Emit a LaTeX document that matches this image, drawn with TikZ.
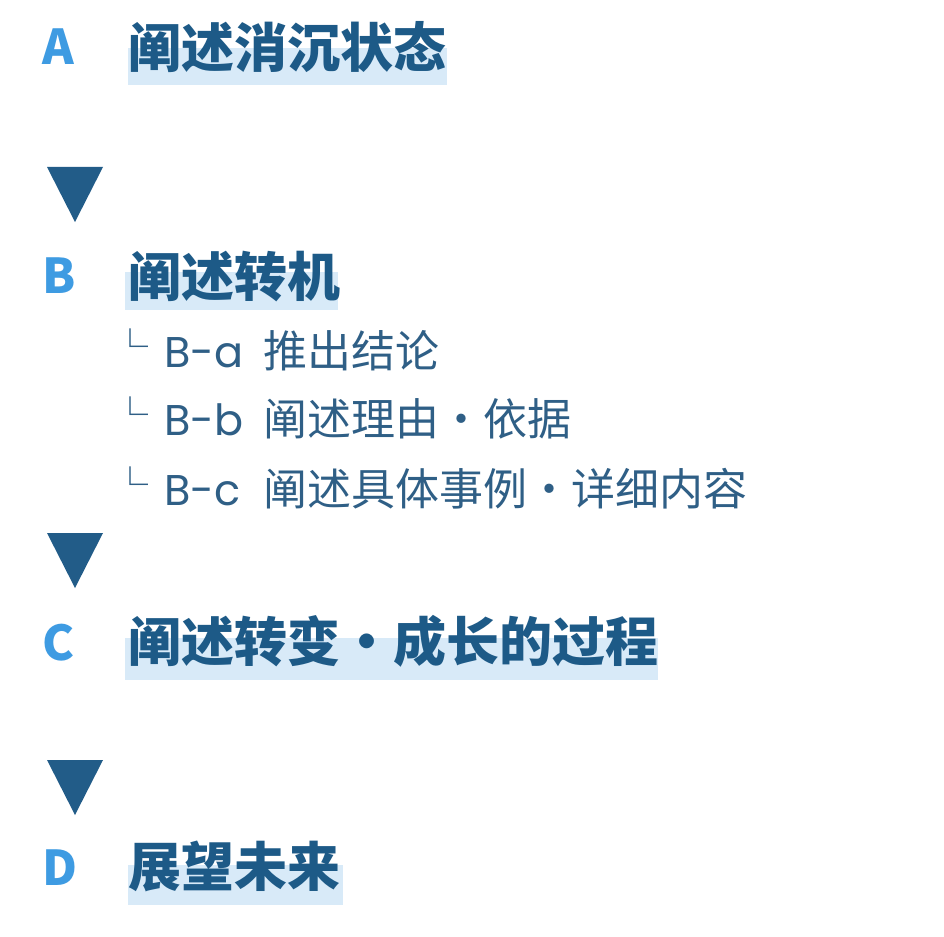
\documentclass[tikz,border=0pt]{standalone}
\usepackage{fontspec}
\setmainfont{Noto Sans CJK SC}
\newfontfamily\cjkfont{Noto Sans CJK SC}
\newfontfamily\latinfont{Poppins}
\definecolor{headblue}{HTML}{1D5A87}
\definecolor{letterblue}{HTML}{3E9BE2}
\definecolor{bandblue}{HTML}{D8EAF8}
\definecolor{triblue}{HTML}{225C88}
\definecolor{subblue}{HTML}{2F5F86}
\tikzset{
  letter/.style={anchor=base west, inner sep=0pt, text=letterblue, font=\cjkfont\bfseries\fontsize{48}{48}\selectfont},
  heading/.style={anchor=base west, inner sep=0pt, text=headblue, font=\cjkfont\bfseries\fontsize{53}{53}\selectfont},
  band/.style={fill=bandblue, draw=none},
  marker/.style={fill=triblue, draw=none},
  corner/.style={anchor=base west, inner sep=0pt, text=subblue, font=\cjkfont\fontsize{36}{36}\selectfont},
  sublabel/.style={anchor=base west, inner sep=0pt, text=subblue, font=\latinfont\fontsize{43}{43}\selectfont},
  subtext/.style={anchor=base west, inner sep=0pt, text=subblue, font=\cjkfont\fontsize{44}{44}\selectfont}
}
\begin{document}
\begin{tikzpicture}[x=1pt,y=-1pt]
\useasboundingbox[fill=white] (0,0) rectangle (944,936);
% bands
\fill[band] (128,48) rectangle (447,85);
\fill[band] (125,272) rectangle (338,310);
\fill[band] (125,638) rectangle (658,680);
\fill[band] (128,865) rectangle (343,905);
% markers
\fill[marker] (47,167) -- (103,167) -- (75,222) -- cycle;
\fill[marker] (47,533) -- (103,533) -- (75,588) -- cycle;
\fill[marker] (47,760) -- (103,760) -- (75,815) -- cycle;
% letters
\node[letter] (la) at (42,65) {A};
\node[letter] (lb) at (42,293) {B};
\node[letter] (lc) at (42,660) {C};
\node[letter] (ld) at (42,885) {D};
% headings
\node[heading] (ha) at (128,68) {阐述消沉状态};
\node[heading] (hb) at (128,296) {阐述转机};
\node[heading] (hc) at (128,661) {阐述转变・成长的过程};
\node[heading] (hd) at (128,886) {展望未来};
% sub lines
\node[corner] (c1) at (112,360) {└};
\node[sublabel] (sa) at (164,367) {B-a};
\node[subtext] (ta) at (263,367) {推出结论};
\node[corner] (c2) at (112,428) {└};
\node[sublabel] (sb) at (164,435) {B-b};
\node[subtext] (tb) at (263,435) {阐述理由・依据};
\node[corner] (c3) at (112,498) {└};
\node[sublabel] (sc) at (164,505) {B-c};
\node[subtext] (tc) at (263,505) {阐述具体事例・详细内容};
\end{tikzpicture}
\end{document}
